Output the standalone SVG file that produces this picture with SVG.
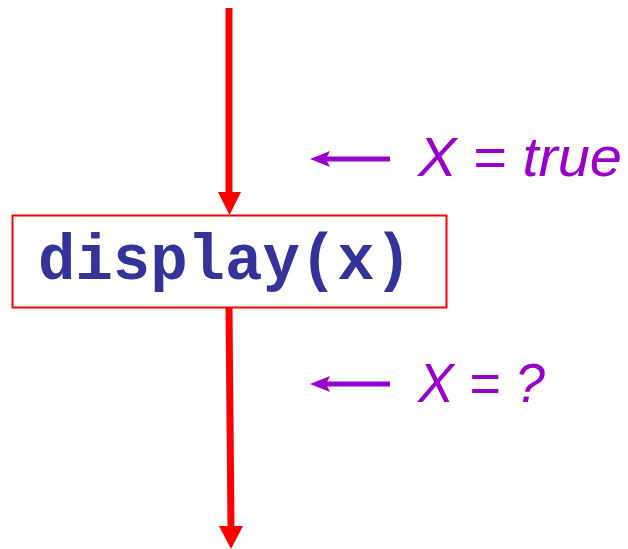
<svg xmlns="http://www.w3.org/2000/svg" width="628" height="549" viewBox="0 0 628 549">
<style>
.flow{stroke:#ff0000;stroke-width:7;fill:none}
.head{fill:#ff0000}
.note{stroke:#9900cc;stroke-width:5;fill:none}
.nhead{fill:#9900cc}
.lbl{font-family:"Liberation Sans",Arial,sans-serif;font-style:italic;font-size:55px;fill:#9900cc}
.code{font-family:"Liberation Mono","Courier New",monospace;font-weight:bold;font-size:64px;fill:#333399}
</style>
<rect width="628" height="549" fill="#ffffff"/>
<g id="connectors">
<line class="flow" x1="229" y1="8" x2="229" y2="194"/>
<polygon class="head" points="218,192 241,192 229.5,215"/>
<line class="flow" x1="229" y1="308" x2="231" y2="528"/>
<polygon class="head" points="219,526 243,526 231,549"/>
<line class="note" x1="326" y1="159" x2="390" y2="159"/>
<polygon class="nhead" points="310,159 330,151 326,159 330,167"/>
<line class="note" x1="326" y1="384" x2="390" y2="384"/>
<polygon class="nhead" points="310,384 330,376 326,384 330,392"/>
</g>
<g id="display">
<rect x="12.5" y="215.5" width="434" height="92" fill="#ffffff" stroke="#ff0000" stroke-width="2"/>
<text class="code" x="38" y="279" textLength="374" lengthAdjust="spacingAndGlyphs">display(x)</text>
</g>
<g id="note-true">
<text class="lbl" x="418" y="176" textLength="204" lengthAdjust="spacingAndGlyphs">X = true</text>
</g>
<g id="note-unknown">
<text class="lbl" x="418" y="402" textLength="127" lengthAdjust="spacingAndGlyphs">X = ?</text>
</g>
</svg>
